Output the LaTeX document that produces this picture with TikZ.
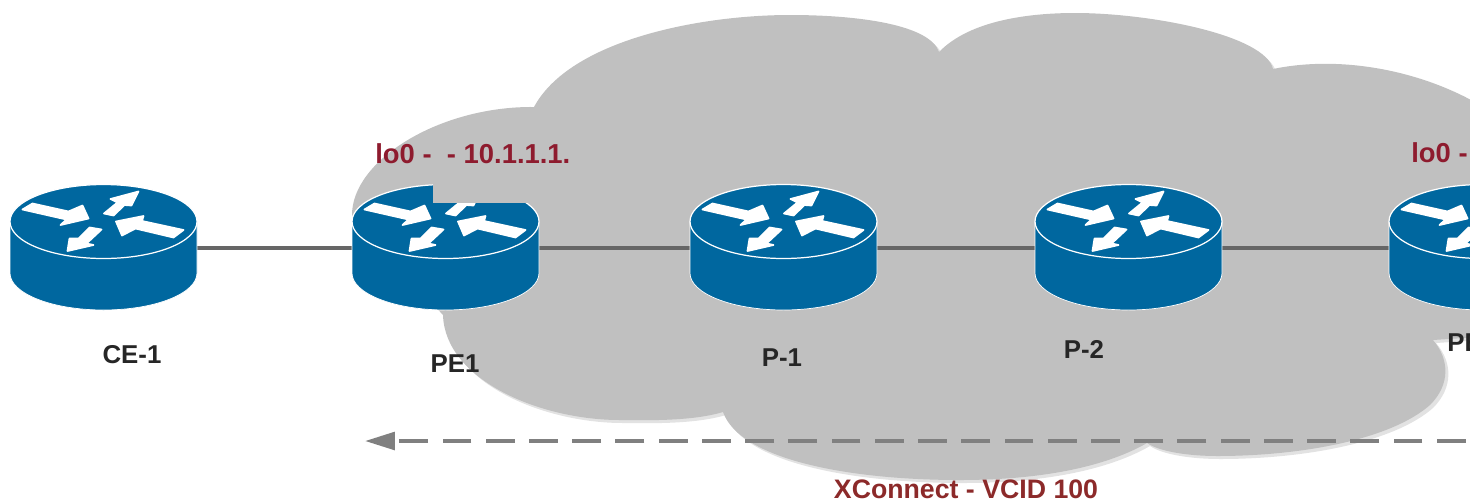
\documentclass[tikz,border=0pt]{standalone}
\usepackage{fontspec}
\setmainfont{Liberation Sans}
\usetikzlibrary{arrows.meta}

\definecolor{cloudgrey}{HTML}{C0C0C0}
\definecolor{cloudshade}{HTML}{E2E2E2}
\definecolor{routerblue}{HTML}{00679F}
\definecolor{addrred}{HTML}{8E1B2E}
\definecolor{vcidred}{HTML}{8C2A2A}

\newcommand{\cloudoutline}{
    (352,215) .. controls (352,160) and (440,106) .. (534,107)
    .. controls (570,40) and (700,15) .. (790,15)
    .. controls (860,15) and (930,25) .. (939,52)
    .. controls (970,20) and (1030,13) .. (1075,13)
    .. controls (1150,13) and (1265,35) .. (1273,69)
    .. controls (1340,55) and (1420,70) .. (1480,105)
    -- (1480,337) -- (1433,340)
    .. controls (1450,360) and (1450,385) .. (1430,405)
    .. controls (1390,440) and (1300,456) .. (1217,456)
    .. controls (1190,456) and (1160,452) .. (1147,443)
    .. controls (1100,470) and (1030,480) .. (960,480)
    .. controls (850,480) and (740,460) .. (723,412)
    .. controls (690,422) and (640,420) .. (620,420)
    .. controls (540,420) and (445,380) .. (443,315) -- cycle
}

\tikzset{
    link/.style={draw=black!60, line width=2.6pt},
    routerarrow/.style={fill=white, draw=white, line width=1pt, line join=round},
    devlabel/.style={text=black!85, font=\fontsize{14.7}{17}\selectfont\bfseries, inner sep=0pt},
    addrlabel/.style={text=addrred, font=\fontsize{15.6}{18}\selectfont\bfseries, inner sep=0pt},
    router/.pic={
        \begin{scope}[shift={(0,-26.5)}]
            \fill[routerblue] (-93.5,0) -- (-93.5,51.5) arc [start angle=180, end angle=0, x radius=93.5, y radius=37] -- (93.5,0) -- cycle;
            \draw[white, line width=0.4pt] (-93.5,0) -- (-93.5,51.5) arc [start angle=180, end angle=0, x radius=93.5, y radius=37] -- (93.5,0);
            \draw[white, fill=routerblue, line width=0.7pt] (0,0) ellipse [x radius=93.5, y radius=37];
            \path[routerarrow] (-71,-18) -- (-35,-10) -- (-21,-16) -- (-15,-3) -- (-43,3.5) -- (-37,-2) -- (-81,-12) -- cycle;
            \path[routerarrow] (0.5,-8) -- (14,-19) -- (7,-22.5) -- (35,-30) -- (28,-16) -- (21,-16.5) -- (10,-6) -- cycle;
            \path[routerarrow] (12.5,0) -- (40,-5.5) -- (38.5,-0.5) -- (80,8.5) -- (70,16) -- (32,7) -- (18.5,14) -- cycle;
            \path[routerarrow] (-36,29.5) -- (-34,17) -- (-25,17) -- (-14,6) -- (-2,8) -- (-17,22) -- (-10,23.5) -- cycle;
        \end{scope}
    }
}

\begin{document}
\begin{tikzpicture}[x=0.02cm, y=-0.02cm]
    \useasboundingbox (0,0) rectangle (1470,501);
    \clip (0,0) rectangle (1470,501);

    \fill[cloudshade, shift={(3,3)}] \cloudoutline;
    \fill[cloudgrey] \cloudoutline;

    \coordinate (ce1) at (103.5,248);
    \coordinate (pe1) at (445.5,248);
    \coordinate (p1) at (783.5,248);
    \coordinate (p2) at (1128.5,248);
    \coordinate (pe2) at (1482.5,248);
    \coordinate (xcright) at (1480,441);
    \coordinate (xcleft) at (365,441);

    \draw[link] (ce1) -- (pe1) -- (p1) -- (p2) -- (pe2);
    \draw[black!50, line width=2.2pt, dash pattern=on 29*0.5669pt off 14.4*0.5669pt, dash phase=29*0.5669pt,
        -{Triangle[length=17pt, width=10pt]}] (xcright) -- (xcleft);

    \pic at (ce1) {router};
    \pic at (pe1) {router};
    \pic at (p1) {router};
    \pic at (p2) {router};
    \pic at (pe2) {router};

    % patch behind the address
    \fill[cloudgrey] (433,135) rectangle (591,203);

    \node[devlabel] (ce1label) at (132,355) {CE-1};
    \node[devlabel] (pe1label) at (455,364) {PE1};
    \node[devlabel] (p1label) at (782,358) {P-1};
    \node[devlabel] (p2label) at (1084,349) {P-2};
    \node[devlabel, anchor=west] (pe2label) at (1447,343) {PE};

    \node[addrlabel, anchor=west] (pe1addr) at (375,154) {lo0 -\ \ - 10.1.1.1.};
    \node[addrlabel, anchor=west] (pe2addr) at (1411,153) {lo0 -};
    \node[text=vcidred, font=\fontsize{15.2}{18}\selectfont\bfseries, inner sep=0pt] (vcid) at (966,489) {XConnect - VCID 100};
\end{tikzpicture}
\end{document}
